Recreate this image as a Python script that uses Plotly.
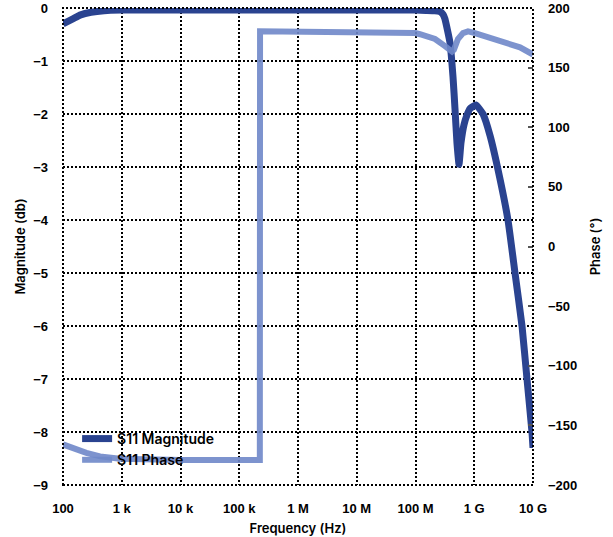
import plotly.graph_objects as go

# ---- data ----
mag_freq = [100, 150, 200, 300, 500, 1e3, 1e4, 1e5, 1e6, 1e7, 1e8, 1.5e8, 2.14e8, 2.61e8,
            2.94e8, 3.16e8, 3.86e8, 4.35e8, 4.7e8, 5.08e8, 5.5e8, 5.94e8, 6.7e8, 7.53e8,
            8.48e8, 1.07e9, 1.41e9, 1.85e9, 2.54e9, 3.75e9, 4.94e9, 6.5e9, 7.9e9,
            9.6e9, 1e10]
mag_db = [-0.3, -0.2, -0.13, -0.08, -0.05, -0.04, -0.04, -0.04, -0.04, -0.04, -0.04, -0.045,
          -0.05, -0.07, -0.12, -0.2, -0.65, -1.3, -1.9, -2.55, -2.95, -2.55, -2.2, -2.02,
          -1.9, -1.83, -2.0, -2.4, -3.05, -4.0, -5.0, -6.0, -7.0, -8.0, -8.3]

ph_freq = [100, 160, 250, 427, 934, 1e4, 1e5, 2.24e5, 2.26e5, 1e6, 1e7, 1e8, 1.19e8, 2.15e8,
           3.18e8, 4.02e8, 4.18e8, 4.5e8, 5.28e8, 6.44e8, 7.83e8, 1.03e9, 2.74e9, 6.0e9, 1e10]
ph_deg = [-166, -170, -173, -176, -178, -179, -179, -179, 180.5, 180.2, 179.8, 179, 178, 174,
          168, 164, 163.5, 165, 174, 179, 180.4, 179, 172.5, 167, 161]

x_tickvals = [1e2, 1e3, 1e4, 1e5, 1e6, 1e7, 1e8, 1e9, 1e10]
x_ticktext = ["100", "1 k", "10 k", "100 k", "1 M", "10 M", "100 M", "1 G", "10 G"]

MAG_COLOR = "#2a4390"
PH_COLOR = "#6f88c9"
TICK_FONT = dict(family="Liberation Sans, Arial, sans-serif", size=13, color="black", weight="bold")
TITLE_FONT = dict(family="Inter, sans-serif", size=13, color="black", weight=600)

fig = go.Figure()
fig.add_trace(go.Scatter(x=mag_freq, y=mag_db, mode="lines", name="S11 Magnitude",
                         line=dict(color=MAG_COLOR, width=7, shape="spline", smoothing=0.4),
                         yaxis="y"))
fig.add_trace(go.Scatter(x=ph_freq, y=ph_deg, mode="lines", name="S11 Phase",
                         line=dict(color=PH_COLOR, width=6, shape="linear"),
                         opacity=0.9, yaxis="y2"))

grid = dict(showgrid=True, gridcolor="black", gridwidth=2, griddash="2px,2px")

fig.update_layout(
    width=613, height=537,
    margin=dict(l=63, r=80, t=8, b=52),
    plot_bgcolor="white", paper_bgcolor="white",
    showlegend=True,
    legend=dict(x=0.03, y=0.13, xanchor="left", yanchor="top", bgcolor="rgba(0,0,0,0)",
                font=dict(family="Inter, sans-serif", size=14, color="black", weight=600),
                tracegroupgap=0, itemwidth=30),
    xaxis=dict(type="log", range=[2, 10], tickvals=x_tickvals, ticktext=x_ticktext,
               tickfont=TICK_FONT, ticks="", ticklabelstandoff=14, zeroline=False,
               automargin=False,
               title=dict(text="Frequency (Hz)", font=TITLE_FONT, standoff=8), **grid),
    yaxis=dict(range=[-9, 0], dtick=1, tickfont=TICK_FONT, ticks="", ticklabelstandoff=14,
               zeroline=False, automargin=False,
               title=dict(text="Magnitude (db)", font=TITLE_FONT, standoff=4), **grid),
    yaxis2=dict(range=[-200, 200], dtick=50, overlaying="y", side="right", showgrid=False,
                zeroline=False, tickfont=TICK_FONT, ticks="inside", ticklen=5, tickwidth=2,
                tickcolor="#555", ticklabelstandoff=14, automargin=False,
                title=dict(text="Phase (°)", font=TITLE_FONT, standoff=14)),
    shapes=[dict(type="rect", xref="paper", yref="paper", x0=0, x1=1, y0=0, y1=1,
                 line=dict(color="black", width=2, dash="2px,2px"), layer="above")],
)

fig.write_html("out.html", config={"displayModeBar": False},
               post_script="document.body.style.margin='0';")
